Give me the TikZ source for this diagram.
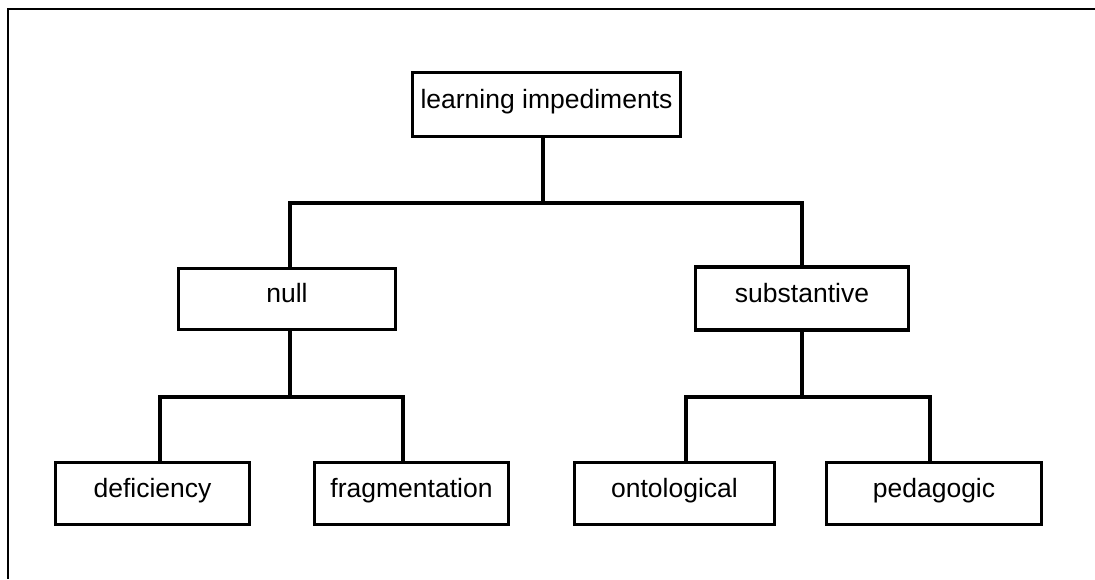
\documentclass[tikz,border=0pt]{standalone}
\usepackage{fontspec}
\setmainfont{Liberation Sans}
\begin{document}
\begin{tikzpicture}[x=1pt,y=-1pt,
  box/.style={draw=black, line width=3.2pt, fill=white, inner sep=0pt,
    text height=18.5pt, text depth=11pt,
    font=\fontsize{26.5}{31}\selectfont},
  conn/.style={draw=black, line width=3.2pt},
  frame/.style={draw=black, line width=2.5pt}]
\useasboundingbox (0,0) rectangle (1095,579);
\draw[frame] (1095,9) -- (8,9) -- (8,579);

\node[box, minimum width=268pt, minimum height=64pt] (top) at (546.5,104.5) {learning impediments};
\node[box, minimum width=217pt, minimum height=61pt] (null) at (287,299) {null};
\node[box, minimum width=213pt, minimum height=63pt] (subst) at (802,298.5) {substantive};
\node[box, minimum width=194pt, minimum height=62pt] (defic) at (152.5,493.5) {deficiency};
\node[box, minimum width=194pt, minimum height=62pt] (frag) at (411.5,493.5) {fragmentation};
\node[box, minimum width=200pt, minimum height=62pt] (onto) at (674.5,493.5) {ontological};
\node[box, minimum width=215pt, minimum height=62pt] (peda) at (934,493.5) {pedagogic};

\coordinate (j1) at (543,203);
\coordinate (j2) at (290,397);
\coordinate (j3) at (802,397);
\coordinate (x1) at (160,0);
\coordinate (x2) at (403,0);
\coordinate (x3) at (686,0);
\coordinate (x4) at (930,0);

\draw[conn] (top.south -| j1) -- (j1);
\draw[conn] (null.north -| j2) |- (j1);
\draw[conn] (subst.north -| j3) |- (j1);

\draw[conn] (null.south -| j2) -- (j2);
\draw[conn] (defic.north -| x1) |- (j2);
\draw[conn] (frag.north -| x2) |- (j2);

\draw[conn] (subst.south -| j3) -- (j3);
\draw[conn] (onto.north -| x3) |- (j3);
\draw[conn] (peda.north -| x4) |- (j3);
\end{tikzpicture}
\end{document}
